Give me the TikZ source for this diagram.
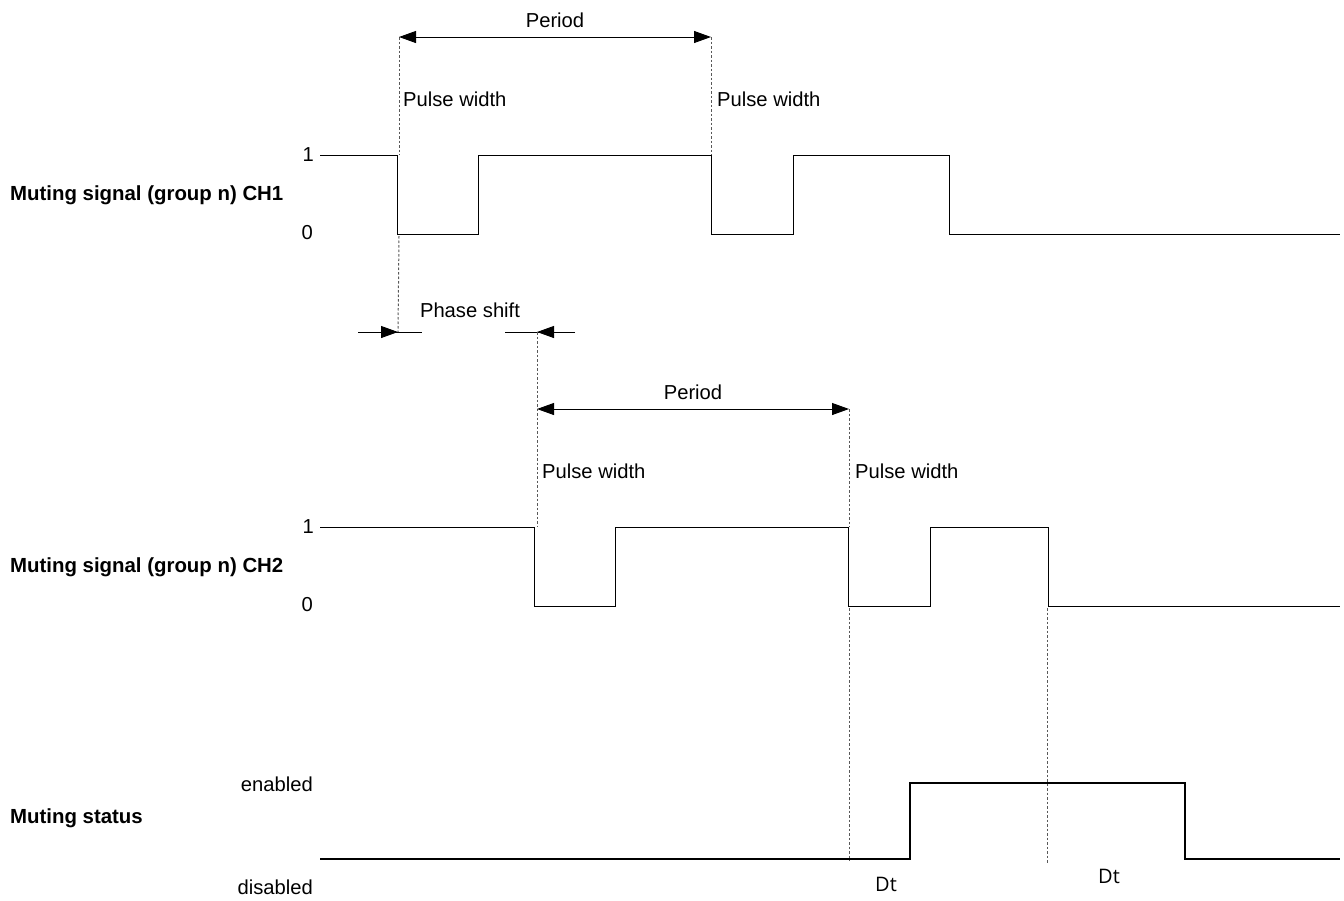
\documentclass[tikz,border=0pt]{standalone}
\usepackage{fontspec}
\setmainfont{Liberation Sans}
\newfontfamily\dtfont{Open Sans}
\usetikzlibrary{arrows.meta}
\begin{document}
\begin{tikzpicture}[x=1pt,y=-1pt,
 sig/.style={line width=1pt},
 stat/.style={line width=2pt},
 guide/.style={gray!70!black, line width=1pt, dash pattern=on 2.5pt off 2pt},
 dimline/.style={line width=1pt, {Triangle[length=17pt,width=12pt]}-{Triangle[length=17pt,width=12pt]}},
 onetip/.style={line width=1pt, -{Triangle[length=17pt,width=12pt]}},
 lbl/.style={font=\fontsize{20.2}{24}\selectfont, inner sep=0pt},
 ttl/.style={font=\fontsize{20.4}{24}\selectfont\bfseries, inner sep=0pt, anchor=west},
 dtl/.style={font=\dtfont\fontsize{20}{24}\selectfont, inner sep=0pt},
]
\useasboundingbox (0,0) rectangle (1344,900);

% ---------- CH1 ----------
\node[ttl] (t1) at (10,195) {Muting signal (group n) CH1};
\node[lbl,anchor=east] (h1) at (314,155) {1};
\node[lbl,anchor=east] (l1) at (313,233) {0};
\draw[sig] (320,155) -- (397,155) -- (397,234) -- (478,234) -- (478,155) -- (711,155)
  -- (711,234) -- (793,234) -- (793,155) -- (949,155) -- (949,234) -- (1340,234);

\coordinate (a1) at (399,37);
\coordinate (a1b) at (399,155);
\coordinate (a1c) at (399,236);
\coordinate (ps1) at (398,332);
\coordinate (b1) at (711,37);
\coordinate (b1b) at (711,155);
\draw[guide] (a1) -- (a1b);
\draw[guide] (a1c) -- (ps1);
\draw[guide] (b1) -- (b1b);
\draw[dimline] (a1) -- (b1);
\node[lbl] (per1) at (555,20) {Period};
\node[lbl,anchor=west] (pw1) at (403,99) {Pulse width};
\node[lbl,anchor=west] (pw2) at (717,99) {Pulse width};

% ---------- phase shift ----------
\coordinate (psl0) at (358,332);
\coordinate (psl1) at (422,332);
\coordinate (psr0) at (505,332);
\coordinate (psr1) at (575,332);
\coordinate (ps2) at (537,332);
\draw[sig] (psl0) -- (psl1);
\draw[sig] (psr0) -- (psr1);
\draw[onetip] (psl0) -- (ps1);
\draw[onetip] (psr1) -- (ps2);
\node[lbl] (phs) at (470,310) {Phase shift};

% ---------- CH2 ----------
\node[ttl] (t2) at (10,567) {Muting signal (group n) CH2};
\node[lbl,anchor=east] (h2) at (314,527) {1};
\node[lbl,anchor=east] (l2) at (313,605) {0};
\draw[sig] (320,527) -- (534,527) -- (534,606) -- (615,606) -- (615,527) -- (848,527)
  -- (848,606) -- (930,606) -- (930,527) -- (1048,527) -- (1048,606) -- (1340,606);

\coordinate (a2) at (537,409);
\coordinate (a2b) at (537,527);
\coordinate (b2) at (849,409);
\coordinate (b2b) at (849,527);
\coordinate (b2c) at (849,608);
\coordinate (b2d) at (849,861);
\coordinate (c2c) at (1047,608);
\coordinate (c2d) at (1047,863);
\draw[guide] (ps2) -- (a2b);
\draw[guide] (b2) -- (b2b);
\draw[guide] (b2c) -- (b2d);
\draw[guide] (c2c) -- (c2d);
\draw[dimline] (a2) -- (b2);
\node[lbl] (per2) at (693,392) {Period};
\node[lbl,anchor=west] (pw3) at (542,471) {Pulse width};
\node[lbl,anchor=west] (pw4) at (855,471) {Pulse width};

% ---------- Muting status ----------
\node[ttl] (t3) at (10,818) {Muting status};
\node[lbl,anchor=east] (en) at (313,784) {enabled};
\node[lbl,anchor=east] (dis) at (313,887) {disabled};
\draw[stat] (320,859) -- (910,859) -- (910,783) -- (1185,783) -- (1185,859) -- (1340,859);
\node[dtl] (dt1) at (886,884) {Dt};
\node[dtl] (dt2) at (1109,876) {Dt};
\end{tikzpicture}
\end{document}
